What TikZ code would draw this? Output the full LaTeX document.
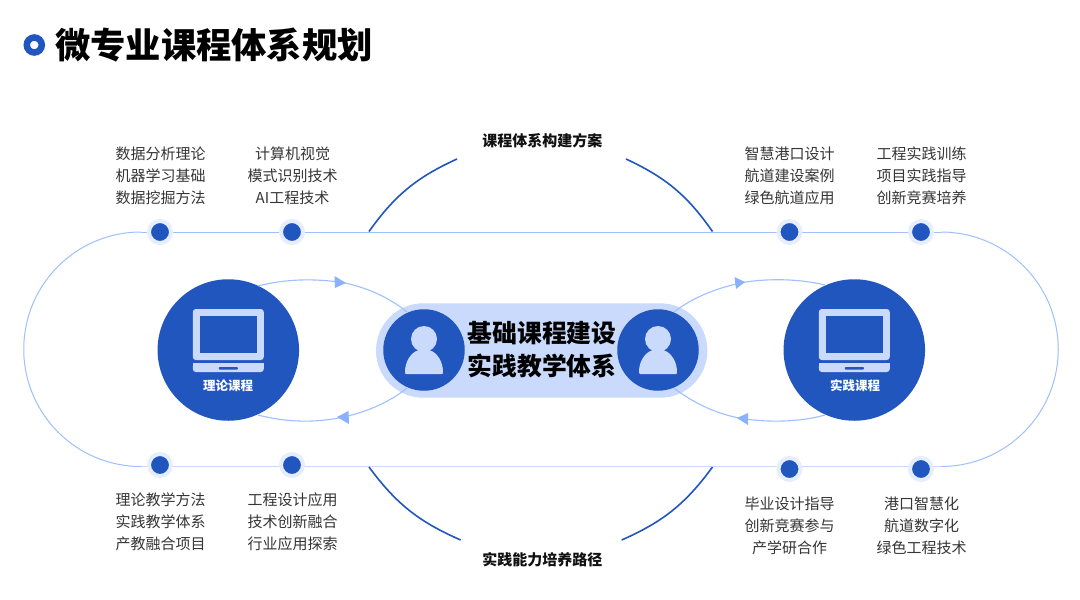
\documentclass[tikz,border=0pt]{standalone}
\usepackage{fontspec}
\usepackage{xcolor}
\usetikzlibrary{calc}
\setmainfont{Noto Sans CJK SC}
\definecolor{DeepBlue}{HTML}{2156BF}
\definecolor{PaleBlue}{HTML}{C9DAFC}
\definecolor{HaloBlue}{HTML}{E6EEFE}
\definecolor{LineBlue}{HTML}{9FC0FD}
\definecolor{TipBlue}{HTML}{8AB1FB}
\definecolor{InkBlack}{HTML}{111111}
\tikzset{
    dotnode/.style={circle, fill=DeepBlue, draw=HaloBlue, line width=4pt, minimum size=22pt, inner sep=0pt},
    topic/.style={align=center, font=\fontsize{15}{22}\selectfont, text=InkBlack!85},
    headline/.style={font=\fontsize{15}{18}\bfseries\selectfont, text=InkBlack},
    tag/.style={font=\fontsize{12.5}{15}\bfseries\selectfont, text=white},
    bigcircle/.style={circle, fill=DeepBlue, minimum size=141.5pt, inner sep=0pt},
    smallcircle/.style={circle, fill=DeepBlue, minimum size=81.5pt, inner sep=0pt},
    track/.style={LineBlue, line width=1pt},
    lowtrack/.style={PaleBlue, line width=1.8pt},
    loopline/.style={LineBlue, line width=1.1pt},
    bowline/.style={DeepBlue, line width=1.6pt}
}
% laptop icon, origin at the middle of the circle
\newcommand{\laptopicon}[1]{
    \fill[PaleBlue, rounded corners=3pt] ($(#1)+(-35.5,-41)$) rectangle ($(#1)+(35.5,10)$);
    \fill[DeepBlue] ($(#1)+(-28.3,-33.7)$) rectangle ($(#1)+(28.7,3)$);
    \fill[PaleBlue, rounded corners=3pt] ($(#1)+(-35.5,13)$) -- ($(#1)+(35.5,13)$) -- ($(#1)+(35.5,22)$) -- ($(#1)+(-35.5,22)$) -- cycle;
    \fill[PaleBlue] ($(#1)+(-35.5,13)$) rectangle ($(#1)+(35.5,17)$);
    \fill[DeepBlue, rounded corners=0.8pt] ($(#1)+(-9.5,17)$) rectangle ($(#1)+(9.5,19.5)$);
}
% person icon
\newcommand{\personicon}[1]{
    \fill[PaleBlue] ($(#1)+(0,-11)$) circle (13);
    \fill[PaleBlue] ($(#1)+(-19,23)$) .. controls ($(#1)+(-19.5,12)$) and ($(#1)+(-13,2)$) .. ($(#1)+(-5,0)$) -- ($(#1)+(5,0)$) .. controls ($(#1)+(13,2)$) and ($(#1)+(19.5,12)$) .. ($(#1)+(19,23)$) -- ($(#1)+(18,24)$) -- ($(#1)+(-18,24)$) -- cycle;
}
\begin{document}
\begin{tikzpicture}[x=1pt, y=-1pt]
    \useasboundingbox (0,0) rectangle (1080,600);
    \fill[white] (0,0) rectangle (1080,600);

    % title
    \node[circle, draw=DeepBlue, fill=white, line width=6.5pt, minimum size=15pt, inner sep=0pt] (mark) at (34.3,45) {};
    \node[anchor=west, inner sep=0pt, font=\fontsize{35.3}{40}\bfseries\selectfont, text=black] (title) at (55,45.5) {微专业课程体系规划};

    % labels on the big track
    \node[headline] (plan) at (542.3,140.5) {课程体系构建方案};
    \node[headline] (path) at (542.3,559.5) {实践能力培养路径};

    % corners of the track
    \coordinate (tl) at (141,232);
    \coordinate (tr) at (941,232);
    \coordinate (bl) at (141,466.5);
    \coordinate (br) at (941,466.5);
    \draw[track] (tl) arc[start angle=-90, end angle=-270, radius=117.25];
    \draw[track] (tr) arc[start angle=-90, end angle=90, radius=117.25];
    \draw[track] (tl) -- (tr);
    \draw[lowtrack] (bl) -- (br);

    % dark bows
    \coordinate (a1) at (369,231.5);
    \coordinate (a2) at (457,159);
    \coordinate (a3) at (626,159);
    \coordinate (a4) at (712.5,231.5);
    \coordinate (b1) at (369,467);
    \coordinate (b2) at (460.7,540);
    \coordinate (b3) at (621.7,540);
    \coordinate (b4) at (712.5,467);
    \draw[bowline] (a1) to[bend left=15] (a2);
    \draw[bowline] (a3) to[bend left=15] (a4);
    \draw[bowline] (b1) to[bend right=15] (b2);
    \draw[bowline] (b3) to[bend right=15] (b4);

    % dots
    \node[dotnode] (d1) at (160,232) {};
    \node[dotnode] (d2) at (292,232) {};
    \node[dotnode] (d3) at (789.5,232) {};
    \node[dotnode] (d4) at (921,232) {};
    \node[dotnode] (d5) at (160,465) {};
    \node[dotnode] (d6) at (292,465) {};
    \node[dotnode] (d7) at (789.5,469) {};
    \node[dotnode] (d8) at (921,469) {};

    % topics
    \node[topic] (t1) at (160.5,176) {数据分析理论\\机器学习基础\\数据挖掘方法};
    \node[topic] (t2) at (292.5,176) {计算机视觉\\模式识别技术\\AI工程技术};
    \node[topic] (t3) at (789.5,176) {智慧港口设计\\航道建设案例\\绿色航道应用};
    \node[topic] (t4) at (921.5,176) {工程实践训练\\项目实践指导\\创新竞赛培养};
    \node[topic] (t5) at (160.5,522) {理论教学方法\\实践教学体系\\产教融合项目};
    \node[topic] (t6) at (292.5,522) {工程设计应用\\技术创新融合\\行业应用探索};
    \node[topic] (t7) at (789.5,526) {毕业设计指导\\创新竞赛参与\\产学研合作};
    \node[topic] (t8) at (921.5,526) {港口智慧化\\航道数字化\\绿色工程技术};

    % circles and the band
    \node[bigcircle] (theory) at (228.3,350) {};
    \node[bigcircle] (practice) at (854.3,350) {};
    \node[rounded corners=47pt, fill=PaleBlue, minimum width=331.3pt, minimum height=94.4pt, inner sep=0pt] (pill) at (541.7,350.5) {};
    \node[smallcircle] (pa) at (424,350) {};
    \node[smallcircle] (pb) at (658,350) {};

    % loops
    \draw[loopline] (258,286) .. controls (285,279) and (315,278) .. (345,283);
    \draw[loopline] (345,283) .. controls (368,288) and (390,298) .. (407,312);
    \draw[loopline] (407,388) .. controls (390,402) and (365,413) .. (339,418);
    \draw[loopline] (339,418) .. controls (312,423) and (285,422) .. (258,415);
    \draw[loopline] (674,312) .. controls (692,298) and (716,288) .. (743,282.5);
    \draw[loopline] (743,282.5) .. controls (770,278) and (800,279) .. (825,285);
    \draw[loopline] (674,388) .. controls (692,402) and (714,413) .. (739,418);
    \draw[loopline] (739,418) .. controls (768,423) and (800,422) .. (825,415);

    \fill[TipBlue] (346,283) -- (334.5,276) -- (335,288) -- cycle;
    \fill[TipBlue] (337,417) -- (348.5,411) -- (349,424) -- cycle;
    \fill[TipBlue] (745,282) -- (734.5,277) -- (736,289) -- cycle;
    \fill[TipBlue] (737,418) -- (748,413) -- (748,425) -- cycle;

    % icons
    \laptopicon{theory}
    \laptopicon{practice}
    \personicon{pa}
    \personicon{pb}
    \node[tag] (ltheory) at (228,386) {理论课程};
    \node[tag] (lpractice) at (855,386) {实践课程};

    % middle text
    \node[align=center, font=\fontsize{24.8}{33}\bfseries\selectfont, text=black] (core) at (542,350) {基础课程建设\\实践教学体系};
\end{tikzpicture}
\end{document}
